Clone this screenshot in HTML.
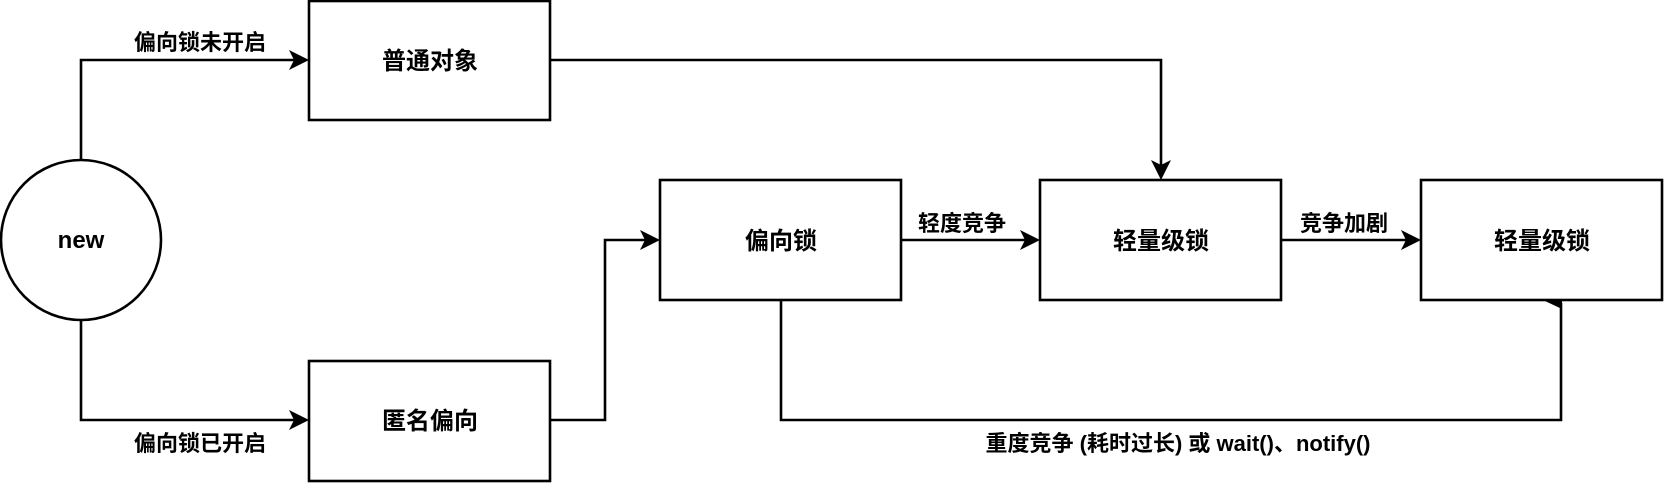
<!DOCTYPE html>
<html><head><meta charset="utf-8"><style>
html,body{margin:0;padding:0;background:#fff;}
svg text{font-family:"Liberation Sans","Noto Sans CJK SC",sans-serif;font-weight:bold;fill:#000;}
</style></head><body>
<svg width="1664" height="484" viewBox="0 0 1664 484" xmlns="http://www.w3.org/2000/svg">
<g fill="none" stroke="#000" stroke-width="2.6">
<circle cx="81" cy="240" r="80" fill="#fff"/>
<rect x="309" y="1" width="241" height="119" fill="#fff"/>
<rect x="309" y="361" width="241" height="120" fill="#fff"/>
<rect x="660" y="180" width="241" height="120" fill="#fff"/>
<rect x="1040" y="180" width="241" height="120" fill="#fff"/>
<rect x="1421" y="180" width="241" height="120" fill="#fff"/>
<polyline points="81,160 81,60 296,60"/>
<polyline points="81,320 81,420 296,420"/>
<polyline points="550,60 1161,60 1161,167"/>
<polyline points="550,420 605,420 605,240 647,240"/>
<polyline points="901,240 1027,240"/>
<polyline points="1281,240 1408,240"/>
<polyline points="781,300 781,420 1561,420 1561,303"/>
</g>
<g fill="#000">
<path d="M309,60 L289,50 L294,60 L289,70 Z"/>
<path d="M309,420 L289,410 L294,420 L289,430 Z"/>
<path d="M1161,180 L1151,160 L1161,165 L1171,160 Z"/>
<path d="M660,240 L640,230 L645,240 L640,250 Z"/>
<path d="M1040,240 L1020,230 L1025,240 L1020,250 Z"/>
<path d="M1421,240 L1401,230 L1406,240 L1401,250 Z"/>
<path d="M1562,301 L1545,301 L1562,309 Z"/>
</g>
<g font-size="24" text-anchor="middle">
<text x="81" y="248">new</text>
<text x="430" y="69">普通对象</text>
<text x="430" y="429">匿名偏向</text>
<text x="781" y="249">偏向锁</text>
<text x="1161" y="249">轻量级锁</text>
<text x="1542" y="249">轻量级锁</text>
</g>
<g font-size="22" text-anchor="middle">
<text x="200" y="50">偏向锁未开启</text>
<text x="200" y="451">偏向锁已开启</text>
<text x="962" y="231">轻度竞争</text>
<text x="1344" y="231">竞争加剧</text>
<text x="1178" y="451">重度竞争 (耗时过长) 或 wait()、notify()</text>
</g>
</svg>
</body></html>
